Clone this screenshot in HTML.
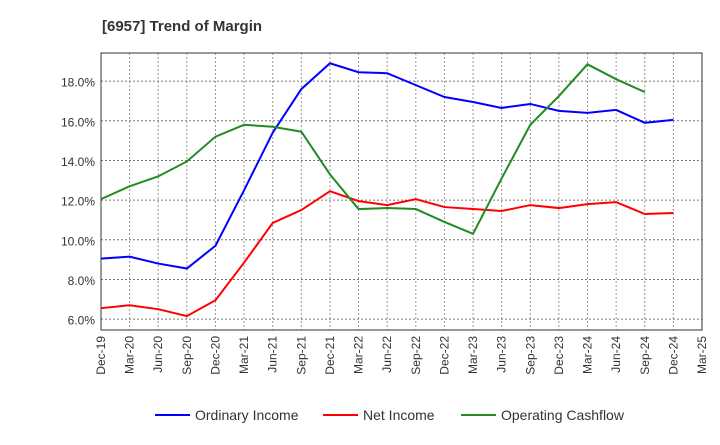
<!DOCTYPE html>
<html><head><meta charset="utf-8"><style>
body{margin:0;background:#fff;font-family:"Liberation Sans",sans-serif}
</style></head><body>
<svg id="c" width="720" height="440" xmlns="http://www.w3.org/2000/svg"></svg>
<script>
const categories=["Dec-19","Mar-20","Jun-20","Sep-20","Dec-20","Mar-21","Jun-21","Sep-21","Dec-21","Mar-22","Jun-22","Sep-22","Dec-22","Mar-23","Jun-23","Sep-23","Dec-23","Mar-24","Jun-24","Sep-24","Dec-24","Mar-25"];
const ordinaryIncome=[9.05,9.15,8.8,8.55,9.7,12.5,15.4,17.6,18.9,18.45,18.4,17.8,17.2,16.95,16.65,16.85,16.5,16.4,16.55,15.9,16.05];
const netIncome=[6.55,6.7,6.5,6.15,6.95,8.85,10.85,11.5,12.45,11.95,11.75,12.05,11.65,11.55,11.45,11.75,11.6,11.8,11.9,11.3,11.35];
const operatingCashflow=[12.05,12.7,13.2,13.95,15.2,15.8,15.7,15.45,13.3,11.55,11.6,11.55,10.9,10.3,13.1,15.8,17.25,18.85,18.1,17.45,null];
const yTicks=[6,8,10,12,14,16,18];
const NS="http://www.w3.org/2000/svg";
const svg=document.getElementById("c");
const L=101,R=702,T=53,B=330;
const yMin=5.45,yMax=19.42;
const x=i=>L+i*(R-L)/(categories.length-1);
const y=v=>B-(v-yMin)/(yMax-yMin)*(B-T);
function mk(tag,attrs){const e=document.createElementNS(NS,tag);for(const k in attrs)e.setAttribute(k,attrs[k]);svg.appendChild(e);return e;}
const title=mk("text",{x:102,y:31,"font-size":15,"font-weight":"bold",fill:"#333"});
title.textContent="[6957]  Trend of Margin";


categories.forEach((c,i)=>{
 const g=mk("line",{x1:x(i),x2:x(i),y1:T,y2:B,stroke:"#999","stroke-dasharray":"2,2","stroke-width":1});
 
 
 const t=mk("text",{transform:`translate(${x(i)+4},${B+6}) rotate(-90)`,"text-anchor":"end","font-size":12,fill:"#333"});
 t.textContent=c;
 
 
});
yTicks.forEach(v=>{
 const g=mk("line",{x1:L,x2:R,y1:y(v),y2:y(v),stroke:"#777","stroke-dasharray":"2,2","stroke-width":1});
 
 
 const t=mk("text",{x:L-6,y:y(v)+5.5,"text-anchor":"end","font-size":12,fill:"#333"});
 t.textContent=v.toFixed(1)+"%";
 
 
});
const frame=mk("rect",{x:L,y:T,width:R-L,height:B-T,fill:"none",stroke:"#333","stroke-width":1});


function series(arr,color,name){
 let d="";arr.forEach((v,i)=>{if(v==null)return;d+=(d?"L":"M")+x(i)+","+y(v);});
 const p=mk("path",{d:d,fill:"none",stroke:color,"stroke-width":2});
 
 
}
series(ordinaryIncome,"#0000ff","ordinary-income-line");
series(netIncome,"#ff0000","net-income-line");
series(operatingCashflow,"#228b22","operating-cashflow-line");
const leg=[["Ordinary Income","#0000ff",155],["Net Income","#ff0000",323],["Operating Cashflow","#228b22",461]];
leg.forEach(([n,c,lx])=>{
 const l=mk("line",{x1:lx,x2:lx+35,y1:415,y2:415,stroke:c,"stroke-width":2});
 
 
 const t=mk("text",{x:lx+40,y:420,"font-size":14,fill:"#333"});
 t.textContent=n;
 
 
});
</script>
</body></html>
